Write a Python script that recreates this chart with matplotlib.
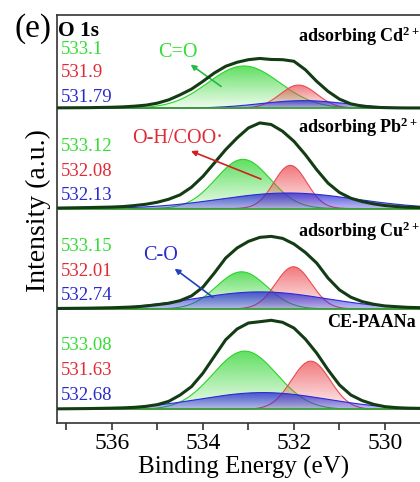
import numpy as np
import matplotlib.pyplot as plt
from matplotlib.colors import to_rgb
import matplotlib.transforms as mtransforms

plt.rcParams['font.family'] = ['Liberation Serif', 'DejaVu Serif']
plt.rcParams['mathtext.fontset'] = 'custom'
plt.rcParams['mathtext.rm'] = 'Liberation Serif'
plt.rcParams['mathtext.bf'] = 'Liberation Serif:bold'

# measured O 1s envelopes (binding energy in eV, intensity a.u.)
energy = [537.2, 536.5, 536.0, 535.75, 535.5, 535.25, 535.0, 534.75, 534.5, 534.25,
          534.0, 533.75, 533.5, 533.25, 533.0, 532.75, 532.5, 532.25, 532.0, 531.75,
          531.5, 531.25, 531.0, 530.75, 530.5, 530.25, 530.0, 529.75, 529.5, 529.23]
env_cd = [0.3, 0.5, 0.9, 1.3, 2, 3, 5, 8.3, 13.3, 19, 26.7, 35, 41.7, 45.7, 48.3,
          49.5, 48.5, 48.3, 46.7, 38.3, 26.7, 16.7, 9, 4.3, 2, 1, 0.5, 0.3, 0.2, 0.2]
env_pb = [0.5, 1, 1.5, 2, 3, 4.3, 6.3, 9.3, 13.7, 21.3, 32, 45.3, 58.7, 70.3, 80.3,
          85.3, 83.7, 77, 67, 53.7, 38.7, 25.3, 16, 10.3, 7, 4.7, 3, 2, 1.3, 1]
env_cu = [0.5, 0.8, 1.2, 1.6, 2, 3, 4.3, 5.7, 8.3, 13, 21.7, 35.7, 50.7, 60.7, 67.3,
          71.3, 72.3, 70.3, 64.7, 56.3, 45.7, 30.7, 19, 11.7, 7.3, 4.7, 3, 2.3, 1.6, 1.3]
env_ce = [0.5, 0.8, 1.2, 1.5, 2, 3, 4.7, 8, 14.3, 22.7, 36, 52.7, 69.3, 80, 86,
          87.3, 88.7, 86.7, 81, 70, 56, 39.3, 24.3, 14.3, 8.7, 5, 2.7, 1.7, 1.2, 1]

samples = ['adsorbing $\\mathbf{Cd^{2+}}$', 'adsorbing $\\mathbf{Pb^{2+}}$',
           'adsorbing $\\mathbf{Cu^{2+}}$', 'CE-PAANa']
offsets = [300, 200, 100, 0]

# fitted components: C=O, O-H/COO, C-O
pos_co = [533.1, 533.12, 533.15, 533.08]
pos_oh = [531.9, 532.08, 532.01, 531.63]
pos_c_o = [531.79, 532.13, 532.74, 532.68]
amp_co = [42, 49, 37, 58]
amp_oh = [23, 43, 42, 48]
amp_c_o = [7.5, 15.5, 17, 16.7]
fwhm_co = [1.85, 1.4, 1.3, 1.65]
fwhm_oh = [0.95, 0.85, 0.92, 1.0]
fwhm_c_o = [2.2, 3.5, 3.4, 3.3]

GREEN = '#2ad42a'
RED = '#ec4a50'
BLUE = '#2a2ad6'
ENV = '#143c14'


def gauss(x, c, a, w):
    return a * np.exp(-4 * np.log(2) * ((x - c) / w) ** 2)


def grad_fill(ax, x, y, base, color, z, a0=0.08, a1=0.75):
    poly = ax.fill_between(x, base, base + y, facecolor='none', edgecolor='none')
    r, g, b = to_rgb(color)
    img = np.zeros((100, 1, 4))
    img[:, 0, 0], img[:, 0, 1], img[:, 0, 2] = r, g, b
    img[:, 0, 3] = np.linspace(a0, a1, 100)
    im = ax.imshow(img, aspect='auto', origin='lower', zorder=z,
                   extent=[x.min(), x.max(), base, base + y.max()])
    im.set_clip_path(poly.get_paths()[0], transform=ax.transData)
    ax.plot(x, base + y, color=color, lw=0.8, zorder=z + 0.1)


fig = plt.figure(figsize=(4.2, 4.82), dpi=100)
ax = fig.add_axes([0.1364, 0.1224, 0.8636, 0.8465])
xs = np.linspace(537.2, 529.23, 500)
envs = [env_cd, env_pb, env_cu, env_ce]
trans = mtransforms.blended_transform_factory(ax.transAxes, ax.transData)
name_x = [531.92, 531.92, 531.9, 531.27]
name_dy = [66.3, 75.4, 72, 82.3]
lab_dy = [[58, 35.5, 11], [62, 37, 13], [62.5, 37.5, 13.5], [64, 39, 14]]

for i, off in enumerate(offsets):
    grad_fill(ax, xs, gauss(xs, pos_co[i], amp_co[i], fwhm_co[i]), off, GREEN, 2)
    grad_fill(ax, xs, gauss(xs, pos_oh[i], amp_oh[i], fwhm_oh[i]), off, RED, 3)
    grad_fill(ax, xs, gauss(xs, pos_c_o[i], amp_c_o[i], fwhm_c_o[i]), off, BLUE, 4,
              a0=0.3, a1=0.8)
    ax.axhline(off, color='#3a9e3a', lw=1.3, zorder=5)
    ax.plot(energy, np.array(envs[i]) + off, color=ENV, lw=2.2, zorder=6)
    ax.text(name_x[i], off + name_dy[i], samples[i], fontsize=13, fontweight='bold',
            ha='left', va='baseline', zorder=7)
    for v, c, dy in zip([pos_co[i], pos_oh[i], pos_c_o[i]], ['#33dd33', '#e02a35', '#2a2acc'],
                        lab_dy[i]):
        ax.text(0.01, off + dy, f'{v:g}', transform=trans, fontsize=13.5, color=c,
                ha='left', va='center', zorder=7)

ax.text(0.003, 377, 'O 1s', transform=trans, fontsize=15.5, fontweight='bold',
        ha='left', va='center')

ax.text(534.56, 355, 'C=O', color='#33dd33', fontsize=14.5, ha='center', va='center')
ax.annotate('', xy=(534.32, 345), xytext=(533.55, 320),
            arrowprops=dict(arrowstyle='-|>', color='#22bb44', lw=1.2, mutation_scale=8))
ax.text(534.56, 270, 'O-H/COO·', color='#e02a35', fontsize=14.5, ha='center', va='center')
ax.annotate('', xy=(534.32, 258.3), xytext=(532.67, 228.4),
            arrowprops=dict(arrowstyle='-|>', color='#d02020', lw=1.2, mutation_scale=8),
            zorder=8)
ax.text(534.94, 152.8, 'C-O', color='#2a2acc', fontsize=14.5, ha='center', va='center')
ax.annotate('', xy=(534.67, 141.8), xytext=(533.73, 109.9),
            arrowprops=dict(arrowstyle='-|>', color='#2040c0', lw=1.2, mutation_scale=8),
            zorder=8)

ax.set_xlim(537.2, 529.23)
ax.set_ylim(-13.6, 392.8)
ax.set_xticks([536, 534, 532, 530])
ax.set_xticks([537, 535, 533, 531], minor=True)
ax.set_yticks([])
ax.tick_params(axis='x', which='both', direction='out', length=5, width=1.2,
               labelsize=17, pad=2, color='#333333')
ax.spines['right'].set_visible(False)
for s in ['left', 'bottom', 'top']:
    ax.spines[s].set_linewidth(1.2)
    ax.spines[s].set_color('#333333')

fig.text(14 / 420, 1 - 29 / 482, '(e)', fontsize=24, ha='left', va='center')
fig.text(38 / 420, 1 - 211 / 482, 'Intensity (a.u.)', rotation=90, fontsize=20,
         ha='center', va='center')
fig.text(244 / 420, 1 - 467 / 482, 'Binding Energy (eV)', fontsize=18,
         ha='center', va='center')

fig.savefig('out.png', dpi=100)
